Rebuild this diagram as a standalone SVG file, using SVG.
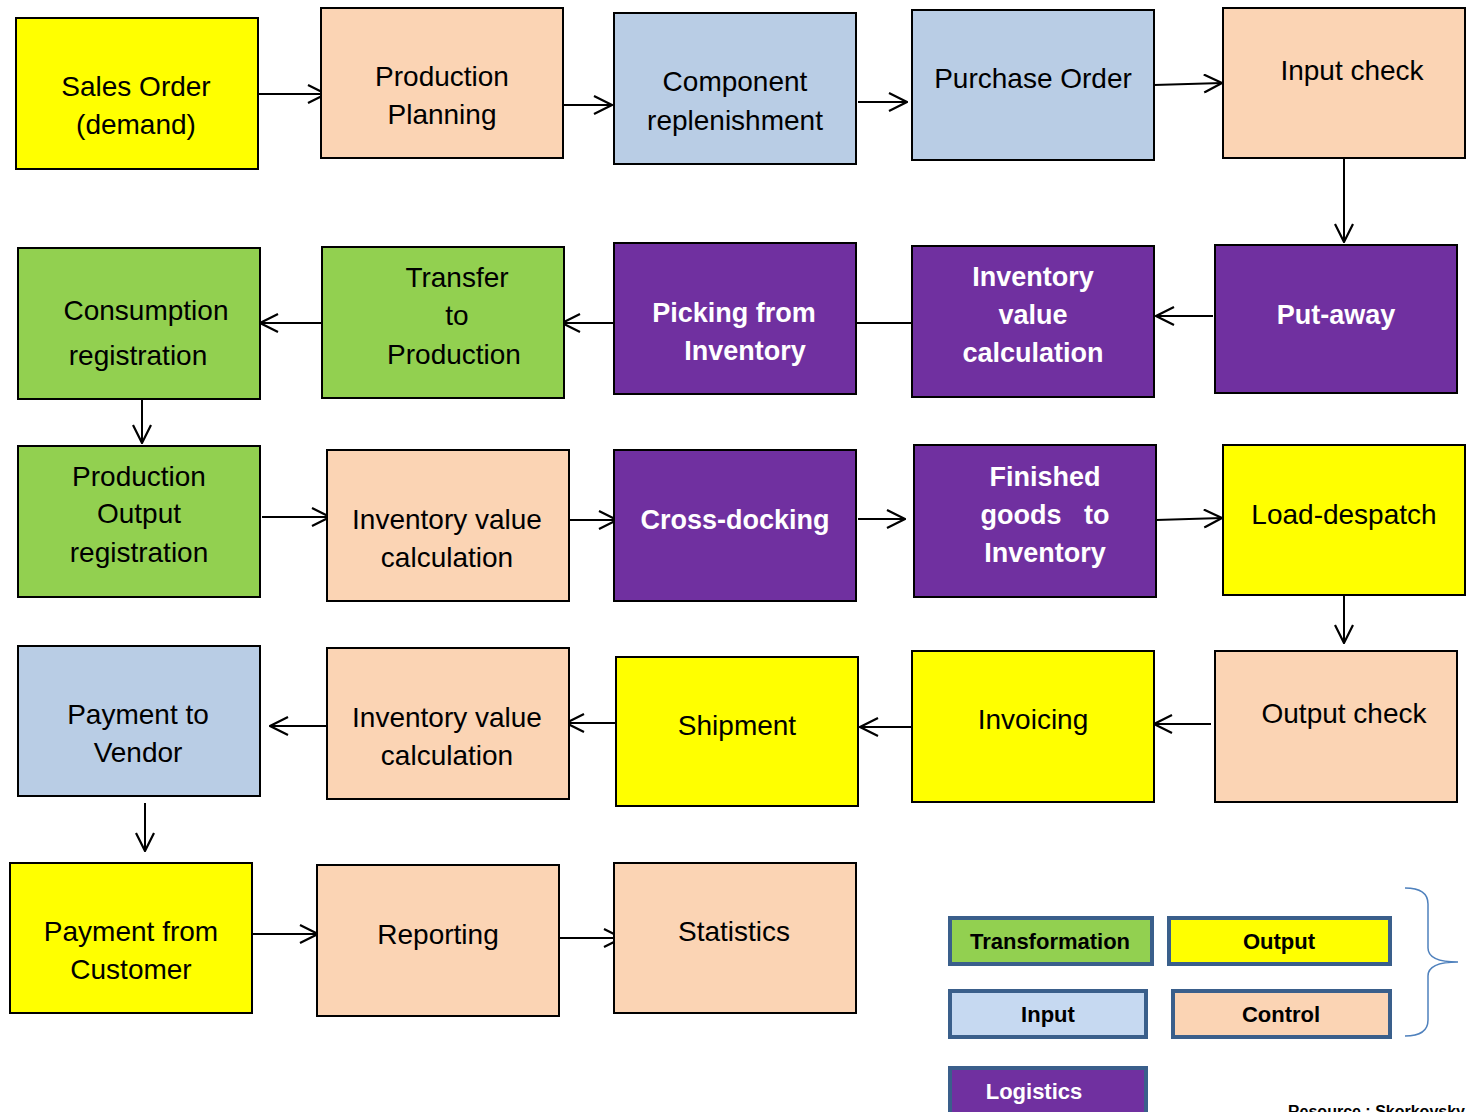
<svg xmlns="http://www.w3.org/2000/svg" width="1472" height="1112" viewBox="0 0 1472 1112">
<style>
.n{stroke:#000;stroke-width:2}
.y{fill:#FFFF00}.p{fill:#FBD4B4}.b{fill:#B9CDE5}.g{fill:#92D050}.v{fill:#7030A0}
.t{font-family:"Liberation Sans",Arial,sans-serif;font-size:28px;fill:#000;text-anchor:middle}
.w{font-family:"Liberation Sans",Arial,sans-serif;font-size:27px;font-weight:bold;fill:#fff;text-anchor:middle}
.c{stroke:#000;stroke-width:2;fill:none}
.lg{stroke:#3A5F8B;stroke-width:4}
.lt{font-family:"Liberation Sans",Arial,sans-serif;font-size:22px;font-weight:bold;fill:#000;text-anchor:middle}
</style>
<defs>
<marker id="a" viewBox="0 0 20 20" refX="19" refY="10" markerWidth="20" markerHeight="20" markerUnits="userSpaceOnUse" orient="auto">
<polyline points="1,1 19,10 1,19" fill="none" stroke="#000" stroke-width="2.2"/>
</marker>
</defs>
<rect width="1472" height="1112" fill="#fff"/>
<g id="connectors">
<line class="c" x1="258" y1="94" x2="326" y2="94" marker-end="url(#a)"/>
<line class="c" x1="563" y1="105" x2="612" y2="105" marker-end="url(#a)"/>
<line class="c" x1="858" y1="102" x2="907" y2="102" marker-end="url(#a)"/>
<line class="c" x1="1154" y1="85" x2="1222" y2="83" marker-end="url(#a)"/>
<line class="c" x1="1344" y1="158" x2="1344" y2="242" marker-end="url(#a)"/>
<line class="c" x1="1213" y1="316" x2="1156" y2="316" marker-end="url(#a)"/>
<line class="c" x1="850" y1="323" x2="912" y2="323"/>
<line class="c" x1="614" y1="323" x2="562" y2="323" marker-end="url(#a)"/>
<line class="c" x1="325" y1="323" x2="260" y2="323" marker-end="url(#a)"/>
<line class="c" x1="142" y1="399" x2="142" y2="443" marker-end="url(#a)"/>
<line class="c" x1="262" y1="517" x2="330" y2="517" marker-end="url(#a)"/>
<line class="c" x1="569" y1="520" x2="617" y2="520" marker-end="url(#a)"/>
<line class="c" x1="858" y1="519" x2="905" y2="519" marker-end="url(#a)"/>
<line class="c" x1="1156" y1="520" x2="1222" y2="518" marker-end="url(#a)"/>
<line class="c" x1="1344" y1="595" x2="1344" y2="643" marker-end="url(#a)"/>
<line class="c" x1="1211" y1="724" x2="1154" y2="724" marker-end="url(#a)"/>
<line class="c" x1="917" y1="727" x2="860" y2="727" marker-end="url(#a)"/>
<line class="c" x1="622" y1="723" x2="566" y2="723" marker-end="url(#a)"/>
<line class="c" x1="326" y1="726" x2="270" y2="726" marker-end="url(#a)"/>
<line class="c" x1="145" y1="803" x2="145" y2="851" marker-end="url(#a)"/>
<line class="c" x1="252" y1="934" x2="318" y2="934" marker-end="url(#a)"/>
<line class="c" x1="555" y1="938" x2="622" y2="938" marker-end="url(#a)"/>
</g>
<g id="sales-order"><rect class="n y" x="16" y="18" width="242" height="151"/><text class="t" x="136" y="96">Sales Order</text><text class="t" x="136" y="134">(demand)</text></g>
<g id="production-planning"><rect class="n p" x="321" y="8" width="242" height="150"/><text class="t" x="442" y="86">Production</text><text class="t" x="442" y="124">Planning</text></g>
<g id="component-replenishment"><rect class="n b" x="614" y="13" width="242" height="151"/><text class="t" x="735" y="91">Component</text><text class="t" x="735" y="130">replenishment</text></g>
<g id="purchase-order"><rect class="n b" x="912" y="10" width="242" height="150"/><text class="t" x="1033" y="88">Purchase Order</text></g>
<g id="input-check"><rect class="n p" x="1223" y="8" width="242" height="150"/><text class="t" x="1352" y="80">Input check</text></g>
<g id="consumption-registration"><rect class="n g" x="18" y="248" width="242" height="151"/><text class="t" x="146" y="320">Consumption</text><text class="t" x="138" y="365">registration</text></g>
<g id="transfer-to-production"><rect class="n g" x="322" y="247" width="242" height="151"/><text class="t" x="457" y="287">Transfer</text><text class="t" x="457" y="325">to</text><text class="t" x="454" y="364">Production</text></g>
<g id="picking-from-inventory"><rect class="n v" x="614" y="243" width="242" height="151"/><text class="w" x="734" y="322">Picking from</text><text class="w" x="745" y="360">Inventory</text></g>
<g id="inventory-value-calculation-1"><rect class="n v" x="912" y="246" width="242" height="151"/><text class="w" x="1033" y="286">Inventory</text><text class="w" x="1033" y="324">value</text><text class="w" x="1033" y="362">calculation</text></g>
<g id="put-away"><rect class="n v" x="1215" y="245" width="242" height="148"/><text class="w" x="1336" y="324">Put-away</text></g>
<g id="production-output-registration"><rect class="n g" x="18" y="446" width="242" height="151"/><text class="t" x="139" y="486">Production</text><text class="t" x="139" y="523">Output</text><text class="t" x="139" y="562">registration</text></g>
<g id="inventory-value-calculation-2"><rect class="n p" x="327" y="450" width="242" height="151"/><text class="t" x="447" y="529">Inventory value</text><text class="t" x="447" y="567">calculation</text></g>
<g id="cross-docking"><rect class="n v" x="614" y="450" width="242" height="151"/><text class="w" x="735" y="529">Cross-docking</text></g>
<g id="finished-goods"><rect class="n v" x="914" y="445" width="242" height="152"/><text class="w" x="1045" y="486">Finished</text><text class="w" x="1045" y="524" xml:space="preserve">goods   to</text><text class="w" x="1045" y="562">Inventory</text></g>
<g id="load-despatch"><rect class="n y" x="1223" y="445" width="242" height="150"/><text class="t" x="1344" y="524">Load-despatch</text></g>
<g id="payment-to-vendor"><rect class="n b" x="18" y="646" width="242" height="150"/><text class="t" x="138" y="724">Payment to</text><text class="t" x="138" y="762">Vendor</text></g>
<g id="inventory-value-calculation-3"><rect class="n p" x="327" y="648" width="242" height="151"/><text class="t" x="447" y="727">Inventory value</text><text class="t" x="447" y="765">calculation</text></g>
<g id="shipment"><rect class="n y" x="616" y="657" width="242" height="149"/><text class="t" x="737" y="735">Shipment</text></g>
<g id="invoicing"><rect class="n y" x="912" y="651" width="242" height="151"/><text class="t" x="1033" y="729">Invoicing</text></g>
<g id="output-check"><rect class="n p" x="1215" y="651" width="242" height="151"/><text class="t" x="1344" y="723">Output check</text></g>
<g id="payment-from-customer"><rect class="n y" x="10" y="863" width="242" height="150"/><text class="t" x="131" y="941">Payment from</text><text class="t" x="131" y="979">Customer</text></g>
<g id="reporting"><rect class="n p" x="317" y="865" width="242" height="151"/><text class="t" x="438" y="944">Reporting</text></g>
<g id="statistics"><rect class="n p" x="614" y="863" width="242" height="150"/><text class="t" x="734" y="941">Statistics</text></g>
<g id="legend">
<rect class="lg" x="950" y="918" width="202" height="46" fill="#92D050"/><text class="lt" x="1050" y="949">Transformation</text>
<rect class="lg" x="1169" y="918" width="221" height="46" fill="#FFFF00"/><text class="lt" x="1279" y="949">Output</text>
<rect class="lg" x="950" y="991" width="196" height="46" fill="#C6D9F1"/><text class="lt" x="1048" y="1022">Input</text>
<rect class="lg" x="1173" y="991" width="217" height="46" fill="#FBD4B4"/><text class="lt" x="1281" y="1022">Control</text>
<rect class="lg" x="950" y="1068" width="196" height="50" fill="#7030A0"/><text class="lt" x="1034" y="1099" style="fill:#fff">Logistics</text>
<path d="M1405,888 Q1428,888 1428,904 L1428,948 Q1428,962 1458,962 Q1428,962 1428,976 L1428,1020 Q1428,1036 1405,1036" fill="none" stroke="#4F81BD" stroke-width="1.5"/>
<text x="1288" y="1117" font-family="Liberation Sans, Arial, sans-serif" font-size="16" font-weight="bold" fill="#000">Resource : Skorkovsky</text>
</g>
</svg>
